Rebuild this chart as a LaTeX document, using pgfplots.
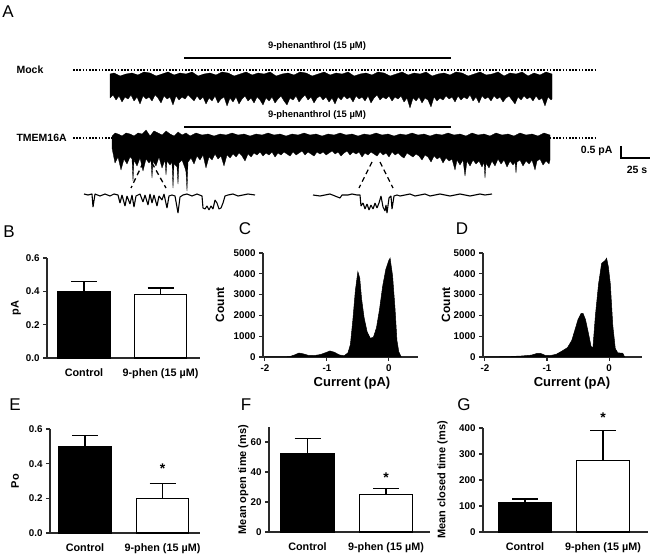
\documentclass[border=0pt]{standalone}
\usepackage{fontspec}
\setmainfont{Liberation Sans}
\usepackage{pgfplots}
\pgfplotsset{compat=1.18}

\definecolor{Ax}{HTML}{2A2A2A}

\pgfplotsset{
  prism/.style={
    scale only axis, axis lines*=left, clip=false, enlargelimits=false,
    axis line style={line width=1.1pt,draw=Ax},
    tick style={line width=1.1pt,draw=Ax},
    tick align=outside, major tick length=4pt,
    /pgf/number format/assume math mode=true,
    ticklabel style={font=\bfseries\fontsize{9.8}{11}\selectfont},
    label style={font=\bfseries\fontsize{11}{12}\selectfont}},
  barpanel/.style={prism, xmin=0, ymin=0, xtick style={draw=none},
    xticklabel style={yshift=-3pt,font=\bfseries\fontsize{10.8}{12}\selectfont}},
  histo/.style={prism, xmin=-2.03, ymin=0, ymax=5000, height=104pt,
    xtick={-2,-1,0}, ytick={0,1000,...,5000},
    yticklabel style={/pgf/number format/.cd,fixed,1000 sep={}},
    xlabel={Current (pA)}, ylabel={Count},
    xlabel style={font=\bfseries\fontsize{13}{14}\selectfont,anchor=center},
    ylabel style={font=\bfseries\fontsize{12}{13}\selectfont,anchor=center}},
  blackbar/.style={ybar, bar width=52pt, bar shift=0pt, fill=black, draw=black, line width=1.1pt,
    error bars/y dir=plus, error bars/y explicit,
    error bars/error bar style={line width=1.1pt,black},
    error bars/error mark options={rotate=90,mark size=13pt,line width=1.1pt,black}},
  whitebar/.style={blackbar, fill=white}
}

\begin{document}
\begin{tikzpicture}
\useasboundingbox (0pt,0pt) rectangle (653pt,554pt);

% ---------- panel A: traces, in pixel coordinates
\begin{axis}[at={(0pt,554pt)}, anchor=north west, scale only axis, width=653pt, height=220pt,
  xmin=0, xmax=653, ymin=0, ymax=220, y dir=reverse, hide axis, clip=false]
\tikzset{lbl/.style={font=\bfseries\fontsize{10.5}{12}\selectfont},
  let/.style={font=\fontsize{17}{19}\selectfont}}
\node[let] at (8,12) {A};
\node[let] at (9,232) {B};
\node[let] at (245,229) {C};
\node[let] at (462,229) {D};
\node[let] at (15,405) {E};
\node[let] at (246,405) {F};
\node[let] at (464,405) {G};

\node[font=\bfseries\fontsize{9.4}{11}\selectfont] at (317,46) {9-phenanthrol (15 µM)};
\node[font=\bfseries\fontsize{9.4}{11}\selectfont] at (317,115) {9-phenanthrol (15 µM)};
\node[lbl,anchor=west] at (13,70) {Mock};
\node[lbl,anchor=west] at (13,138) {TMEM16A};
\node[lbl,anchor=east] at (616,151) {0.5 pA};
\node[lbl] at (637,170) {25 s};

% drug bars
\addplot[black, line width=2pt] coordinates {(184,58)(451,58)};
\addplot[black, line width=2pt] coordinates {(184,127)(451,127)};
% zero-current baselines
\addplot[black, line width=1.6pt, dash pattern=on 1.6pt off 1.6pt] coordinates {(73,70)(595,70)};
\addplot[black, line width=1.6pt, dash pattern=on 1.6pt off 1.6pt] coordinates {(73,138)(595,138)};
% scale bar
\addplot[black, line width=1.6pt] coordinates {(621,146)(621,158)(650,158)};

% Mock trace (envelope)
\addplot[fill=black, draw=black, line width=0.3pt, line join=bevel] coordinates {
(110,74)(110,98)(113,95)(116,100)(119,96)(122,102)(125,97)(128,99)(131,95)(134,101)(137,97)
(140,104)(143,96)(146,99)(149,97)(152,101)(155,95)(158,98)(161,103)(164,96)(167,99)(170,97)
(173,105)(176,96)(179,100)(182,97)(185,99)(188,95)(191,98)(194,101)(197,96)(200,100)(203,97)
(206,104)(209,98)(212,101)(215,96)(218,103)(221,99)(224,97)(227,106)(230,98)(233,102)(236,97)
(239,104)(242,99)(245,96)(248,101)(251,98)(254,103)(257,97)(260,100)(263,105)(266,98)(269,101)
(272,97)(275,103)(278,99)(281,96)(284,101)(287,105)(290,98)(293,100)(296,96)(299,102)(302,98)
(305,95)(308,100)(311,97)(314,103)(317,98)(320,96)(323,100)(326,97)(329,102)(332,98)(335,104)
(338,97)(341,100)(344,96)(347,99)(350,97)(353,102)(356,96)(359,99)(362,97)(365,101)(368,96)
(371,103)(374,98)(377,95)(380,100)(383,97)(386,99)(389,96)(392,101)(395,97)(398,99)(401,96)
(404,102)(407,98)(410,108)(413,98)(416,101)(419,97)(422,103)(425,98)(428,100)(431,107)(434,97)
(437,101)(440,98)(443,100)(446,96)(449,99)(452,97)(455,102)(458,96)(461,100)(464,97)(467,99)
(470,95)(473,101)(476,97)(479,103)(482,96)(485,99)(488,97)(491,101)(494,96)(497,99)(500,97)
(503,102)(506,98)(509,96)(512,100)(515,104)(518,97)(521,100)(524,96)(527,99)(530,97)(533,101)
(536,96)(539,100)(542,98)(545,106)(548,97)(551,100)(552,99)
(552,74)(546,72)(540,75)(534,73)(528,76)(522,72)(516,74)(510,73)(504,76)(498,72)(492,74)
(486,75)(480,72)(474,74)(468,76)(462,73)(456,72)(450,75)(444,73)(438,74)(432,76)(426,72)
(420,74)(414,73)(408,75)(402,72)(396,74)(390,76)(384,73)(378,72)(372,75)(366,73)(360,74)
(354,76)(348,72)(342,74)(336,73)(330,75)(324,72)(318,74)(312,76)(306,73)(300,72)(294,75)
(288,73)(282,74)(276,76)(270,72)(264,74)(258,73)(252,75)(246,72)(240,74)(234,76)(228,73)
(222,72)(216,75)(210,73)(204,74)(198,76)(192,72)(186,74)(180,73)(174,75)(168,72)(162,74)
(156,76)(150,73)(144,72)(138,75)(132,73)(126,74)(120,76)(114,73)
} -- cycle;

% TMEM16A trace (envelope)
\addplot[fill=black, draw=black, line width=0.3pt, line join=bevel] coordinates {
(112,136)(112,148)(115,163)(118,157)(121,170)(124,159)(127,164)(130,157)(132,159)(133,181)
(134,160)(137,166)(140,158)(143,171)(146,159)(149,163)(151,160)(152,178)(153,161)(156,166)
(159,157)(162,168)(165,160)(166,175)(167,161)(170,165)(172,162)(173,188)(174,164)(177,167)
(178,184)(179,163)(182,160)(185,168)(186,172)(187,191)(188,162)(191,158)(194,164)(197,156)
(200,160)(203,155)(206,168)(209,157)(212,160)(215,154)(218,159)(221,156)(224,166)(227,155)
(230,158)(233,154)(236,157)(239,153)(242,156)(245,161)(248,154)(251,157)(254,153)(257,155)
(260,152)(263,156)(266,153)(269,155)(272,152)(275,157)(278,153)(281,155)(284,152)(287,154)
(290,156)(293,152)(296,155)(299,153)(302,151)(305,155)(308,152)(311,154)(314,156)(317,152)
(320,154)(323,152)(326,155)(329,153)(332,151)(335,154)(338,152)(341,156)(344,153)(347,151)
(350,155)(353,152)(356,154)(359,152)(362,157)(365,153)(368,155)(371,152)(374,154)(377,156)
(380,152)(383,155)(386,153)(389,157)(392,152)(395,155)(398,153)(401,156)(404,158)(407,153)
(410,155)(413,157)(416,154)(419,156)(422,160)(425,155)(428,157)(431,162)(434,156)(437,159)
(440,157)(443,163)(446,158)(449,161)(452,159)(455,170)(457,160)(460,165)(463,160)(465,176)
(467,161)(470,166)(473,160)(476,164)(479,161)(482,167)(484,162)(485,178)(486,163)(489,168)
(492,161)(495,166)(498,159)(501,164)(504,160)(507,167)(510,161)(513,165)(515,162)(516,173)
(517,162)(520,160)(523,166)(526,161)(529,164)(532,160)(535,170)(537,161)(540,159)(543,165)
(546,161)(549,164)(550,160)
(550,135)(544,133)(538,136)(532,134)(526,135)(520,133)(514,136)(508,134)(502,135)(496,133)
(490,136)(484,134)(478,135)(472,133)(466,136)(460,134)(454,135)(448,133)(442,135)(436,134)
(430,136)(424,134)(418,135)(412,133)(406,135)(400,134)(394,136)(388,134)(382,135)(376,133)
(370,135)(364,134)(358,136)(352,134)(346,135)(340,133)(334,135)(328,134)(322,136)(316,134)
(310,135)(304,133)(298,135)(292,134)(286,136)(280,134)(274,135)(268,133)(262,135)(256,134)
(250,136)(244,134)(238,135)(232,133)(226,135)(220,134)(214,136)(208,134)(202,135)(196,133)
(190,136)(186,133)(182,135)(178,132)(174,136)(170,134)(166,131)(162,135)(158,133)(154,131)
(150,136)(146,130)(142,134)(138,133)(134,136)(130,134)(126,133)(122,136)(118,134)(115,133)
} -- cycle;

% zoom guides
\addplot[black, line width=1.3pt, dash pattern=on 5pt off 3.5pt] coordinates {(143,163)(131,188)};
\addplot[black, line width=1.3pt, dash pattern=on 5pt off 3.5pt] coordinates {(152,163)(166,188)};
\addplot[black, line width=1.3pt, dash pattern=on 5pt off 3.5pt] coordinates {(372,162)(359,188)};
\addplot[black, line width=1.3pt, dash pattern=on 5pt off 3.5pt] coordinates {(380,162)(393,188)};

% expanded traces
\addplot[black, line width=1.1pt, line join=bevel] coordinates {
(84,194)(88,195)(92,194)(93,207)(95,194)(100,196)(105,194)(110,196)(114,194)(118,195)
(120,203)(122,195)(125,206)(127,196)(130,204)(132,195)(134,207)(136,196)(140,194)(143,202)
(145,195)(148,205)(150,194)(152,203)(154,195)(157,206)(159,196)(162,200)(164,194)(167,208)
(169,196)(172,195)(175,196)(178,213)(180,197)(183,195)(187,194)(192,196)(197,194)(202,196)
(203,208)(205,209)(207,206)(209,210)(211,206)(213,209)(215,200)(217,203)(219,209)(221,208)
(223,203)(225,196)(228,195)(233,194)(238,196)(243,195)(248,194)(255,195)};
\addplot[black, line width=1.1pt, line join=bevel] coordinates {
(313,195)(320,196)(325,195)(330,194)(335,196)(340,198)(342,195)(348,195)(352,194)(357,195)
(360,195)(361,206)(363,203)(365,209)(367,204)(369,210)(371,205)(373,209)(375,203)(377,208)
(379,203)(381,196)(383,207)(385,211)(386,205)(387,213)(389,198)(391,196)(392,209)(394,196)
(397,195)(400,196)(405,195)(410,194)(415,196)(420,195)(425,194)(430,196)(435,195)(440,194)
(445,195)(450,196)(455,195)(460,194)(465,195)(470,196)(475,195)(480,194)(485,195)(492,194)};
\end{axis}

% ---------- panel B
\begin{axis}[barpanel, at={(47pt,196pt)}, anchor=south west, width=153pt, height=100pt,
  xmax=153, ymax=0.6, ytick={0,0.2,0.4,0.6},
  yticklabel style={/pgf/number format/.cd,fixed,fixed zerofill,precision=1},
  xtick={37,113.5}, xticklabels={Control,9-phen (15 µM)},
  ylabel={pA}, ylabel style={at={(axis description cs:-0.203,0.5)},anchor=center}]
\addplot[blackbar] coordinates {(37,0.40) +- (0,0.06)};
\addplot[whitebar] coordinates {(113.5,0.38) +- (0,0.04)};
\end{axis}

% ---------- panel C
\begin{axis}[histo, at={(263pt,197pt)}, anchor=south west, width=155pt, xmax=0.47,
  xlabel style={at={(axis description cs:0.574,-0.25)}},
  ylabel style={at={(axis description cs:-0.277,0.5)}}]
\addplot[fill=black, draw=black, line width=0.5pt] coordinates {
(-2,0)(-1.7,0)(-1.6,20)(-1.52,100)(-1.45,190)(-1.38,150)(-1.3,80)(-1.2,70)(-1.1,120)
(-1.0,230)(-0.95,290)(-0.88,230)(-0.8,100)(-0.72,60)(-0.66,200)(-0.62,600)(-0.58,1800)
(-0.54,3200)(-0.5,4100)(-0.47,3800)(-0.44,2800)(-0.4,1900)(-0.35,1200)(-0.3,900)
(-0.25,950)(-0.2,1400)(-0.15,2300)(-0.1,3400)(-0.05,4200)(0,4650)(0.02,4750)(0.06,3900)
(0.1,2300)(0.13,800)(0.16,250)(0.2,0)} \closedcycle;
\end{axis}

% ---------- panel D
\begin{axis}[histo, at={(483pt,197pt)}, anchor=south west, width=159pt, xmax=0.53,
  xlabel style={at={(axis description cs:0.56,-0.25)}},
  ylabel style={at={(axis description cs:-0.233,0.5)}}]
\addplot[fill=black, draw=black, line width=0.5pt] coordinates {
(-2,0)(-1.6,20)(-1.4,50)(-1.25,90)(-1.15,180)(-1.1,170)(-1.03,80)(-0.95,70)(-0.85,130)
(-0.75,300)(-0.67,450)(-0.6,800)(-0.55,1300)(-0.5,1800)(-0.45,2100)(-0.42,2100)
(-0.38,1800)(-0.33,1100)(-0.29,500)(-0.26,450)(-0.22,2000)(-0.17,3500)(-0.12,4500)
(-0.06,4650)(-0.04,4750)(-0.01,4300)(0.02,3500)(0.06,1500)(0.1,400)(0.14,200)(0.22,180)(0.25,0)}
\closedcycle;
\end{axis}

% ---------- panel E
\begin{axis}[barpanel, at={(50pt,21pt)}, anchor=south west, width=150pt, height=104pt,
  xmax=150, ymax=0.6, ytick={0,0.2,0.4,0.6},
  yticklabel style={/pgf/number format/.cd,fixed,fixed zerofill,precision=1},
  xtick={35,112.5}, xticklabels={Control,9-phen (15 µM)},
  ylabel={Po}, ylabel style={at={(axis description cs:-0.233,0.5)},anchor=center}]
\addplot[blackbar] coordinates {(35,0.50) +- (0,0.06)};
\addplot[whitebar] coordinates {(112.5,0.20) +- (0,0.085)};
\node[font=\bfseries\fontsize{14}{15}\selectfont] at (axis cs:112.5,0.37) {*};
\end{axis}

% ---------- panel F
\begin{axis}[barpanel, at={(269pt,22pt)}, anchor=south west, width=161pt, height=105pt,
  xmax=161, ymax=70, ytick={0,20,40,60},
  xtick={38.5,117}, xticklabels={Control,9-phen (15 µM)},
  ylabel={Mean open time (ms)}, ylabel style={at={(axis description cs:-0.16,0.5)},anchor=center}]
\addplot[blackbar, bar width=53pt] coordinates {(38.5,52.5) +- (0,9.7)};
\addplot[whitebar, bar width=53pt] coordinates {(117,25) +- (0,4)};
\node[font=\bfseries\fontsize{14}{15}\selectfont] at (axis cs:117,36) {*};
\end{axis}

% ---------- panel G
\begin{axis}[barpanel, at={(483pt,22pt)}, anchor=south west, width=165pt, height=104pt,
  xmax=165, ymax=400, ytick={0,100,...,400},
  xtick={42,120}, xticklabels={Control,9-phen (15 µM)},
  ylabel={Mean closed time (ms)}, ylabel style={at={(axis description cs:-0.245,0.5)},anchor=center}]
\addplot[blackbar, bar width=53pt] coordinates {(42,113) +- (0,14)};
\addplot[whitebar, bar width=53pt] coordinates {(120,274) +- (0,117)};
\node[font=\bfseries\fontsize{14}{15}\selectfont] at (axis cs:120,440) {*};
\end{axis}
\end{tikzpicture}
\end{document}
